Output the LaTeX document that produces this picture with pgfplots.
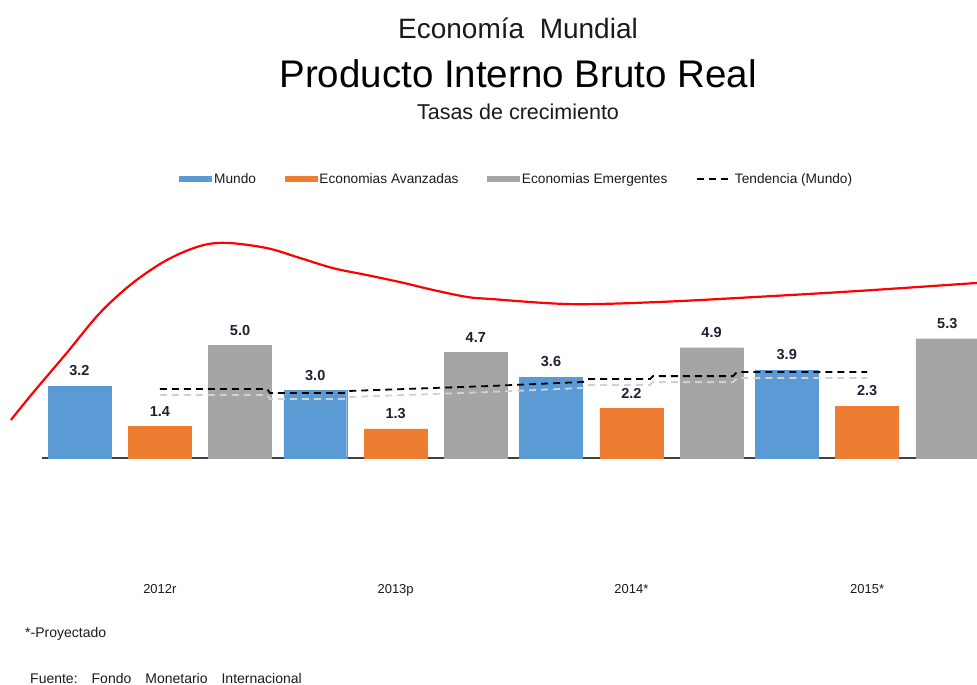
\documentclass[border=0pt]{standalone}
\usepackage{fontspec}
\setmainfont{Liberation Sans}
\usepackage{pgfplots}
\pgfplotsset{compat=1.18}
\definecolor{mundo}{HTML}{5B9BD5}
\definecolor{avanz}{HTML}{ED7D31}
\definecolor{emerg}{HTML}{A5A5A5}
\definecolor{lbl}{HTML}{1F1F33}
\definecolor{ttl}{HTML}{1A1A1A}
\begin{document}
\begin{tikzpicture}
\path[use as bounding box] (-42pt,-227pt) rectangle (935pt,458pt);
\begin{axis}[
  at={(0pt,0pt)}, anchor=south west,
  scale only axis, width=935pt, height=225pt,
  xmin=-0.5, xmax=3.466, ymin=0, ymax=10,
  clip=false,
  axis y line=none, axis x line*=bottom,
  x axis line style={draw=black!75, line width=1.8pt},
  xtick={0,1,2,3}, xticklabels={2012r,2013p,2014*,2015*},
  major tick length=0pt,
  /pgf/number format/assume math mode=true,
  xticklabel style={font=\fontsize{13}{15}\selectfont, text=ttl, anchor=base, yshift=-135pt},
  every node near coord/.append style={font=\bfseries\fontsize{14.5}{16}\selectfont, text=lbl, anchor=south, inner sep=0pt, yshift=10pt},
  legend style={at={(0.508,1.24)}, anchor=center, draw=none, fill=none,
    font=\fontsize{13.7}{15}\selectfont, text=ttl,
    /tikz/every even column/.append style={column sep=26pt},
    nodes={inner sep=2.5pt}},
  legend columns=4,
  legend cell align=left,
]
\addplot[ybar, bar width=0.267, bar shift=0, fill=mundo, draw=mundo,
  nodes near coords={\pgfmathprintnumber[fixed,fixed zerofill,precision=1]{\pgfplotspointmeta}},
  legend image code/.code={\fill[mundo] (0pt,-2.5pt) rectangle (32pt,2.5pt);}]
  coordinates {(-0.341,3.2) (0.659,3.0) (1.659,3.6) (2.659,3.9)};
\addlegendentry{Mundo}
\addplot[ybar, bar width=0.267, bar shift=0, fill=avanz, draw=avanz,
  nodes near coords={\pgfmathprintnumber[fixed,fixed zerofill,precision=1]{\pgfplotspointmeta}},
  legend image code/.code={\fill[avanz] (0pt,-2.5pt) rectangle (32pt,2.5pt);}]
  coordinates {(0,1.4) (1,1.3) (2,2.2) (3,2.3)};
\addlegendentry{Economias Avanzadas}
\addplot[ybar, bar width=0.267, bar shift=0, fill=emerg, draw=emerg,
  nodes near coords={\pgfmathprintnumber[fixed,fixed zerofill,precision=1]{\pgfplotspointmeta}},
  legend image code/.code={\fill[emerg] (0pt,-2.5pt) rectangle (32pt,2.5pt);}]
  coordinates {(0.34,5.0) (1.34,4.7) (2.34,4.9) (3.34,5.3)};
\addlegendentry{Economias Emergentes}
% shadow of trend line
\addplot[black!18, line width=1.8pt, dash pattern=on 7pt off 5pt, yshift=-6pt, forget plot]
  coordinates {(0,3.07) (0.454,3.07) (0.467,2.89) (0.793,2.89) (0.806,2.98) (1.40,3.2) (1.795,3.38) (1.812,3.51) (2.079,3.51) (2.092,3.64) (2.431,3.64) (2.448,3.82) (3.0,3.82)};
\addplot[black, line width=1.8pt, dash pattern=on 7pt off 5pt,
  legend image code/.code={\draw[black, line width=1.5pt, dash pattern=on 7pt off 5pt] (0pt,0pt) -- (35pt,0pt);}]
  coordinates {(0,3.07) (0.454,3.07) (0.467,2.89) (0.793,2.89) (0.806,2.98) (1.40,3.2) (1.795,3.38) (1.812,3.51) (2.079,3.51) (2.092,3.64) (2.431,3.64) (2.448,3.82) (3.0,3.82)};
\addlegendentry{Tendencia (Mundo)}
\addplot[red, line width=2.2pt, smooth, tension=0.55, forget plot]
  coordinates {(-0.632,1.69) (-0.539,2.89) (-0.395,4.67) (-0.255,6.44) (-0.115,7.78) (0.030,8.80) (0.170,9.42) (0.284,9.56) (0.454,9.33) (0.594,8.89) (0.734,8.44) (0.878,8.13) (1.018,7.82) (1.158,7.47) (1.302,7.16) (1.400,7.07) (1.740,6.84) (2.109,6.93) (2.533,7.16) (2.957,7.42) (3.466,7.78)};
\end{axis}
\node[anchor=base, font=\fontsize{28}{30}\selectfont, text=ttl] at (476pt,419pt) {Economía\ \ Mundial};
\node[anchor=base, font=\fontsize{38.5}{40}\selectfont, text=black] at (476pt,370pt) {Producto Interno Bruto Real};
\node[anchor=base, font=\fontsize{21.5}{24}\selectfont, text=ttl] at (476pt,338pt) {Tasas de crecimiento};
\node[anchor=base west, inner sep=0pt, font=\fontsize{14}{15}\selectfont, text=ttl] at (-17pt,-179pt) {*-Proyectado};
\node[anchor=base west, inner sep=0pt, font=\fontsize{14}{15}\selectfont, text=ttl] at (-12pt,-225pt) {Fuente:\hspace{14pt}Fondo\hspace{14pt}Monetario\hspace{14pt}Internacional};
\end{tikzpicture}
\end{document}
